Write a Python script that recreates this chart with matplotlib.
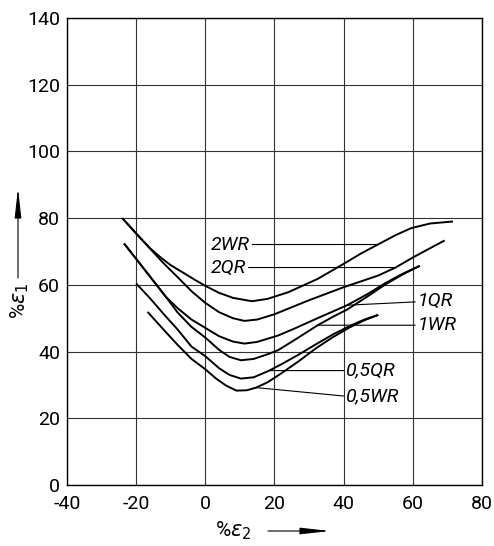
import matplotlib
matplotlib.use("Agg")
import matplotlib.pyplot as plt

plt.rcParams['font.family'] = ['Roboto', 'DejaVu Sans']
plt.rcParams['axes.unicode_minus'] = False

# Forming limit curves (%e2, %e1)
x_2wr = [-24, -20, -16, -13, -10, -6, -3, 0, 4, 8, 13.5, 18, 24, 32.5, 40, 45, 49.9, 55, 59.5, 65, 71.6]
y_2wr = [80, 75.4, 71.0, 68.3, 65.9, 63.4, 61.5, 59.7, 57.6, 56.1, 55.1, 55.8, 57.8, 61.8, 66.3, 69.4, 72.1, 74.9, 77.0, 78.4, 79.0]

x_2qr = [-24, -20, -16, -12, -8, -4, 0, 4, 8, 11.3, 15, 20, 25, 30, 40, 50, 55, 60, 65, 69.2]
y_2qr = [80, 75.4, 70.9, 66.4, 62.3, 58.1, 54.6, 51.8, 50.0, 49.2, 49.6, 51.2, 53.3, 55.4, 59.3, 62.8, 65.2, 68.2, 71.0, 73.3]

x_1qr = [-23.5, -20, -16, -11.4, -8, -4, 0, 4, 8, 11.3, 15, 21, 26, 32, 41, 47, 52, 57, 62]
y_1qr = [72.4, 67.8, 62.5, 56.4, 53.0, 49.6, 47.1, 44.6, 43.0, 42.4, 42.9, 44.8, 47.0, 49.8, 53.9, 57.3, 60.5, 63.3, 65.7]

x_1wr = [-23.5, -20, -16, -11.4, -8, -4, 0, 4, 7, 10.3, 14, 18, 21, 26, 32.5, 37, 41, 47, 52, 57, 62]
y_1wr = [72.4, 67.8, 62.5, 56.4, 51.7, 47.4, 44.2, 40.5, 38.4, 37.4, 37.8, 39.2, 40.4, 43.6, 47.9, 50.5, 52.6, 56.6, 60.1, 63.1, 65.7]

x_05qr = [-20, -16, -12, -8, -4, 0, 4, 7, 10.3, 14, 18.5, 22, 27, 32, 37, 42, 46, 50]
y_05qr = [60.4, 56.0, 51.2, 46.6, 41.5, 38.6, 35.0, 33.0, 31.9, 32.3, 34.3, 36.2, 39.1, 42.2, 45.2, 47.8, 49.6, 51.0]

x_05wr = [-16.7, -12, -8, -4, 0, 3, 6, 9, 12, 14.7, 18, 22, 27, 32, 37, 42, 46, 50]
y_05wr = [51.9, 46.5, 42.0, 37.8, 34.7, 32.0, 29.8, 28.3, 28.4, 29.2, 30.8, 33.5, 37.1, 41.0, 44.4, 47.4, 49.4, 51.0]

x_ticks = [-40, -20, 0, 20, 40, 60, 80]
y_ticks = [0, 20, 40, 60, 80, 100, 120, 140]

fig = plt.figure(figsize=(4.94, 5.46), dpi=100)
ax = fig.add_axes([0.1356, 0.1117, 0.8401, 0.8553])

for xs, ys in [(x_2wr, y_2wr), (x_2qr, y_2qr), (x_1qr, y_1qr),
               (x_1wr, y_1wr), (x_05qr, y_05qr), (x_05wr, y_05wr)]:
    ax.plot(xs, ys, color="black", lw=1.4, solid_capstyle="butt")

ax.set_xlim(-40, 80)
ax.set_ylim(0, 140)
ax.set_xticks(x_ticks)
ax.set_yticks(y_ticks)
ax.grid(True, color="#333333", lw=0.8)
ax.tick_params(length=0, labelsize=14, pad=5)
ax.tick_params(axis="x", pad=7)
for s in ax.spines.values():
    s.set_linewidth(1.0)

# curve labels with leader lines
lead = dict(arrowstyle="-", color="black", lw=0.8, shrinkA=0, shrinkB=0)
lab = dict(fontsize=14, style="italic", va="center")
ax.annotate("2WR", xy=(x_2wr[16], y_2wr[16]), xytext=(1.5, y_2wr[16]), ha="left", arrowprops=lead, **lab)
ax.annotate("2QR", xy=(x_2qr[16], y_2qr[16]), xytext=(1.5, y_2qr[16]), ha="left", arrowprops=lead, **lab)
ax.annotate("1QR", xy=(x_1qr[14], y_1qr[14]), xytext=(61.5, 55.2), ha="left", arrowprops=lead, **lab)
ax.annotate("1WR", xy=(x_1wr[14], y_1wr[14]), xytext=(61.5, y_1wr[14]), ha="left", arrowprops=lead, **lab)
ax.annotate("0,5QR", xy=(x_05qr[10], y_05qr[10]), xytext=(40.8, y_05qr[10]), ha="left", arrowprops=lead, **lab)
ax.annotate("0,5WR", xy=(x_05wr[9], y_05wr[9]), xytext=(40.8, 26.6), ha="left",
            arrowprops=dict(lead, relpos=(0, 0.5)), **lab)

# axis titles with arrows
fig.text(233 / 494, 0.028, "%$\\varepsilon_2$", fontsize=15, ha="center", va="center")
ax.annotate("", xy=(330 / 494, 15 / 546), xytext=(268 / 494, 15 / 546), xycoords="figure fraction",
            arrowprops=dict(arrowstyle="-|>,head_length=1.8,head_width=0.2", color="black", lw=0.8,
                            shrinkA=0, shrinkB=0), annotation_clip=False)
fig.text(20 / 494, 245 / 546, "%$\\varepsilon_1$", fontsize=15, rotation=90, ha="center", va="center")
ax.annotate("", xy=(18 / 494, 358 / 546), xytext=(18 / 494, 268 / 546), xycoords="figure fraction",
            arrowprops=dict(arrowstyle="-|>,head_length=1.8,head_width=0.2", color="black", lw=0.8,
                            shrinkA=0, shrinkB=0), annotation_clip=False)

fig.savefig("out.png", dpi=100)
